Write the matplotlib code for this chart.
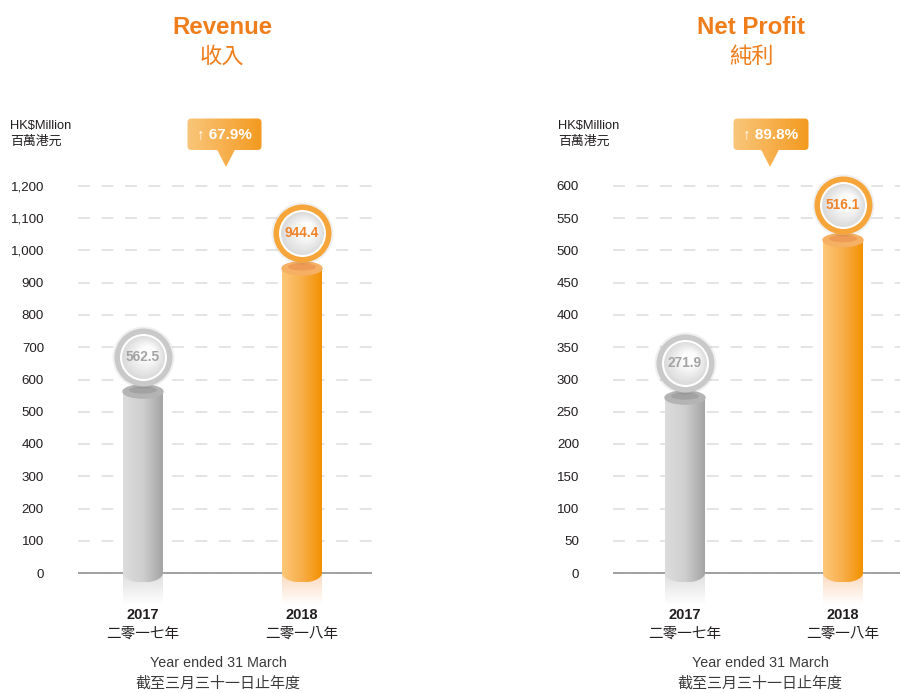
import numpy as np
import matplotlib
matplotlib.use("Agg")
import matplotlib.pyplot as plt
from matplotlib.patches import Ellipse, FancyBboxPatch, Polygon
from matplotlib.colors import LinearSegmentedColormap, to_rgb

plt.rcParams["font.family"] = ["Liberation Sans", "Noto Sans CJK TC", "DejaVu Sans"]
plt.rcParams["lines.scale_dashes"] = False

# data
years = ["2017", "2018"]
years_zh = ["二零一七年", "二零一八年"]
revenue = [562.5, 944.4]
net_profit = [271.9, 516.1]
revenue_ticks = list(range(0, 1201, 100))
profit_ticks = list(range(0, 601, 50))

W, H = 900, 693
ORANGE = "#f07d1b"
DARK = "#231f20"

fig = plt.figure(figsize=(W / 100, H / 100), dpi=100)


def px_axes(x0, x1, ytop, ybot):
    return fig.add_axes([x0 / W, 1 - ybot / H, (x1 - x0) / W, (ybot - ytop) / H])


def ftext(x, y, s, **kw):
    fig.text(x / W, 1 - y / H, s, **kw)


def hgrad(colors, n=64):
    cmap = LinearSegmentedColormap.from_list("g", colors)
    return cmap(np.linspace(0, 1, n)).reshape(1, n, 4)


gray_style = dict(body=["#dcdcdc", "#cfcfcf", "#a4a4a4"], top="#b4b4b4", top_in="#979797",
                  refl="#dedede", ring="#c9c9c9", txt="#a3a3a3")
orange_style = dict(body=["#fcc777", "#f8ae4a", "#f39200"], top="#f6b064", top_in="#e88d4c",
                    refl="#fbd9bd", ring="#f6a53a", txt="#f08228")


def cylinder(ax, x, v, st, ppx, ppy):
    w = 40 / ppx
    body = hgrad(st["body"])
    ax.imshow(body, extent=[x - w / 2, x + w / 2, 0, v], aspect="auto",
              interpolation="bilinear", zorder=3)
    # rounded bottom
    eh = 19 / ppy
    bot = Ellipse((x, 0), w, eh)
    bot.set_transform(ax.transData)
    im = ax.imshow(body, extent=[x - w / 2, x + w / 2, -eh / 2, eh / 2], aspect="auto",
                   interpolation="bilinear", zorder=3)
    im.set_clip_path(bot)
    # reflection
    rh = 32 / ppy
    r, g, b = to_rgb(st["refl"])
    refl = np.zeros((32, 1, 4))
    refl[..., 0], refl[..., 1], refl[..., 2] = r, g, b
    refl[:, 0, 3] = np.linspace(1, 0, 32)
    ax.imshow(refl, extent=[x - w / 2, x + w / 2, -rh, 0], aspect="auto",
              interpolation="bilinear", zorder=2)
    # top
    th = 13 / ppy
    ax.add_patch(Ellipse((x, v), w, th, color=st["top"], zorder=4))
    ax.add_patch(Ellipse((x, v + 1.5 / ppy), w * 0.7, th * 0.55, color=st["top_in"],
                         alpha=0.6, lw=0, zorder=4))
    # badge
    cy = v + 35 / ppy
    ax.scatter([x], [cy], s=(62 * 0.72) ** 2, color="#000000", alpha=0.06, lw=0, zorder=5)
    ax.scatter([x], [cy], s=(58 * 0.72) ** 2, color=st["ring"], lw=0, zorder=5)
    ax.scatter([x], [cy], s=(47 * 0.72) ** 2, color="white", lw=0, zorder=5)
    shades = LinearSegmentedColormap.from_list("s", ["#dcdcdc", "#fcfcfc"])
    for k, d in enumerate(np.linspace(43, 16, 9)):
        ax.scatter([x + k * 0.5 / ppx], [cy + k * 0.5 / ppy], s=(d * 0.72) ** 2,
                   color=shades(k / 8), lw=0, zorder=5)
    ax.text(x, cy, f"{v:,.1f}", ha="center", va="center", fontsize=9.8,
            fontweight="bold", color=st["txt"], zorder=6)


def callout(x0, x1, tip, text):
    w = x1 - x0
    cax = px_axes(x0, x1, 118, 167)
    cax.set_xlim(0, w)
    cax.set_ylim(0, 49)
    cax.axis("off")
    grad = hgrad(["#f9c67a", "#f7b04e", "#f39a1f"])
    box = FancyBboxPatch((0.5, 17), w - 1, 31.5, boxstyle="round,pad=0,rounding_size=4")
    tri = Polygon([(tip - x0 - 9, 17.5), (tip - x0 + 9, 17.5), (tip - x0, 0)])
    for p in (box, tri):
        p.set_transform(cax.transData)
        im = cax.imshow(grad, extent=[0, w, 0, 49], aspect="auto", interpolation="bilinear")
        im.set_clip_path(p)
    cax.set_xlim(0, w)
    cax.set_ylim(0, 49)
    cax.text(w / 2, 33, text, ha="center", va="center", color="white",
             fontsize=11, fontweight="bold")


def panel(vals, ticks, g):
    ytop, ybase, ybot_ax, yhi_ax = 186, 573, 612, 160
    ymax = ticks[-1]
    ppy = (ybase - ytop) / ymax
    ppx = g["bar1"] - g["bar0"]
    ax = px_axes(g["x0"], g["x1"], yhi_ax, ybot_ax)
    ax.set_yticks(ticks)
    ax.set_yticklabels([f"{t:,}" for t in ticks])
    ax.tick_params(axis="y", length=0, pad=(g["x0"] - g["lab"]) * 0.72,
                   labelsize=9.6, labelcolor=DARK)
    ax.set_xticks([])
    for s in ax.spines.values():
        s.set_visible(False)
    ax.set_axisbelow(True)
    ax.yaxis.grid(True, color="#dddddd", lw=1.1, ls=(0, (8.6, 8.3)))
    ax.axhline(0, color="#9a9a9a", lw=1.3, zorder=1)

    for i, v in enumerate(vals):
        cylinder(ax, i, v, gray_style if i == 0 else orange_style, ppx, ppy)

    ax.set_xlim((g["x0"] - g["bar0"]) / ppx, (g["x1"] - g["bar0"]) / ppx)
    ax.set_ylim(-(ybot_ax - ybase) / ppy, ymax + (ytop - yhi_ax) / ppy)

    xt = ax.get_xaxis_transform()
    to_ax = lambda ypx: (ybot_ax - ypx) / (ybot_ax - yhi_ax)
    for i, (y, yz) in enumerate(zip(years, years_zh)):
        ax.text(i, to_ax(615), y, transform=xt, ha="center", va="center",
                fontsize=10.5, fontweight="bold", color=DARK, clip_on=False)
        ax.text(i, to_ax(634), yz, transform=xt, ha="center", va="center",
                fontsize=10.5, fontweight="medium", color=DARK, clip_on=False)

    ftext(g["title_x"], 27, g["title"], ha="center", va="center", fontsize=17.3,
          fontweight="bold", color=ORANGE)
    ftext(g["title_x"], 57, g["title_zh"], ha="center", va="center", fontsize=16, color=ORANGE)
    ftext(g["unit_x"], 126, "HK$Million", ha="left", va="center", fontsize=9.3, color=DARK)
    ftext(g["unit_x"], 142, "百萬港元", ha="left", va="center", fontsize=9.3, color=DARK)
    ftext(g["foot_x"], 663, "Year ended 31 March", ha="center", va="center",
          fontsize=10.3, color="#3a3a3a")
    ftext(g["foot_x"], 684, "截至三月三十一日止年度", ha="center", va="center",
          fontsize=10.8, color="#3a3a3a")

    growth = (vals[1] / vals[0] - 1) * 100
    callout(g["cx0"], g["cx1"], g["tip"], f"↑ {growth:.1f}%")


panel(revenue, revenue_ticks,
      dict(x0=78, x1=372, bar0=143, bar1=302, lab=44, title_x=222, unit_x=10, foot_x=218,
           cx0=187, cx1=262, tip=226, title="Revenue", title_zh="收入"))
panel(net_profit, profit_ticks,
      dict(x0=613, x1=905, bar0=685, bar1=843, lab=579, title_x=751, unit_x=558, foot_x=760,
           cx0=733, cx1=809, tip=770, title="Net Profit", title_zh="純利"))

fig.savefig("out.png", dpi=100)
